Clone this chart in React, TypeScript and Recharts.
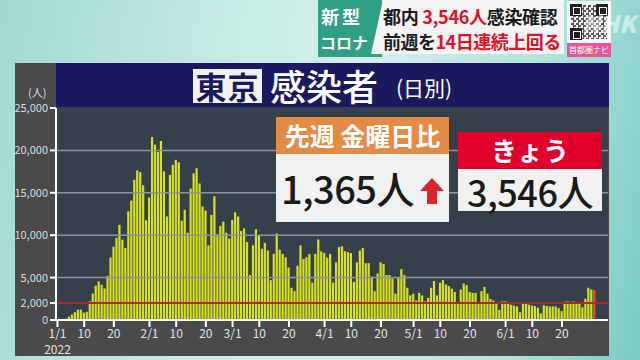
import React from 'react';
import { BarChart, Bar, XAxis, YAxis, ReferenceLine, Cell } from 'recharts';

// days per month on the axis (July only partly: axis runs to 7/5)
const monthLengths = [31, 28, 31, 30, 31, 30, 5];

const jan = [79, 84, 103, 151, 390, 641, 922, 1224, 1223, 871, 962, 2198, 3124, 4051, 4561, 4172, 3719, 5185, 7377, 8638, 9699, 11227, 9468, 8503, 12813, 14086, 16538, 17631, 17433, 15895, 11751];
const feb = [14445, 21576, 20679, 19800, 21121, 17526, 12214, 17113, 18287, 18891, 18600, 11700, 13000, 10300, 15500, 17300, 17900, 16100, 13400, 12900, 8800, 12400, 14600, 10100, 11100, 11600, 10300, 9600];
const mar = [11800, 12700, 12200, 10500, 10800, 9200, 5300, 8800, 10700, 10000, 8400, 9100, 8200, 4700, 7800, 10200, 8300, 7800, 7400, 6200, 3800, 3400, 6400, 8800, 7200, 7400, 7800, 4400, 7800, 9500, 8100];
const apr = [7900, 7350, 7800, 4400, 6800, 8600, 8700, 8100, 8000, 7900, 4500, 6800, 8200, 8500, 6700, 6700, 5100, 3400, 5500, 6800, 6600, 5300, 5300, 4900, 3100, 5000, 6000, 5300, 3800, 2900];
const may = [3100, 2300, 3200, 2900, 2200, 2600, 3800, 4600, 2900, 4400, 4700, 4200, 4000, 3700, 3300, 2000, 3600, 4300, 4100, 3300, 3200, 3200, 2100, 3400, 3900, 3100, 2500, 2300, 2000, 1200, 2200];
const jun = [2200, 2100, 1800, 1700, 1600, 930, 2000, 1900, 1800, 1700, 1650, 1450, 780, 1750, 1650, 1600, 1600, 1600, 1400, 1050, 2150, 2200, 2150, 2181, 2100, 1900, 1500, 2500, 3800, 3600];
const jul = [3546];

const yTicks = [0, 2000, 5000, 10000, 15000, 20000, 25000];
const gridValues = [5000, 10000, 15000, 20000];
const labelDays = [1, 10, 20];
const lastLabelMonth = 6;

const values: number[] = [...jan, ...feb, ...mar, ...apr, ...may, ...jun, ...jul];
const dates: string[] = [];
monthLengths.forEach((n, m) => {
  for (let d = 1; d <= n; d++) dates.push(`${m + 1}/${d}`);
});
const data = dates.map((date, i) => ({ date, cases: i < values.length ? values[i] : null }));
const todayIndex = values.length - 1;

const DateTick = (props: any) => {
  const { x, y, payload } = props;
  const [m, d] = String(payload.value).split('/').map(Number);
  if (!labelDays.includes(d) || m > lastLabelMonth) return <g />;
  const label = d === 1 ? `${m}/1` : String(d);
  return (
    <g transform={`translate(${x},${y})`}>
      <line x1={0} y1={0} x2={0} y2={7} stroke="#ffffff" strokeWidth={2} />
      <text x={0} y={18} textAnchor="middle" fill="#e2e2e2" fontSize={12}>{label}</text>
      {m === 1 && d === 1 && (
        <text x={0} y={34} textAnchor="middle" fill="#e2e2e2" fontSize={12}>2022</text>
      )}
    </g>
  );
};

const abs = (left: number, top: number, width: number, height: number): React.CSSProperties => ({
  position: 'absolute', left, top, width, height,
});

const App = () => {
  return (
    <div
      style={{
        position: 'fixed', left: 0, top: 0, width: 640, height: 360, overflow: 'hidden',
        fontFamily: "'Noto Sans CJK JP', 'Noto Sans', sans-serif",
        background: 'linear-gradient(100deg, #9fdad2 0%, #c8ebe6 35%, #d4efeb 55%, #b2e2dc 80%, #78cdc3 100%)',
      }}
    >
      {/* top banner */}
      <div style={{ ...abs(318, 0, 64, 57), background: '#2f9f86' }} />
      <div style={{ ...abs(321, 4, 56, 24), color: '#fff', fontSize: 18, fontWeight: 700, lineHeight: '24px', letterSpacing: 3 }}>新型</div>
      <div style={{ ...abs(320, 30, 58, 24), color: '#fff', fontSize: 16, fontWeight: 700, lineHeight: '24px', whiteSpace: 'nowrap' }}>コロナ</div>
      <div style={{ ...abs(371, 0, 193, 54), background: '#f4f4f4', clipPath: 'polygon(12px 0, 100% 0, 100% 100%, 0 100%)' }} />
      <div style={{ ...abs(383, 4, 180, 24), fontSize: 18, fontWeight: 700, lineHeight: '24px', color: '#1c1c1c', whiteSpace: 'nowrap', letterSpacing: -0.3 }}>
        都内 <span style={{ color: '#e0112b' }}>3,546人</span>感染確認
      </div>
      <div style={{ ...abs(383, 29, 180, 24), fontSize: 18, fontWeight: 700, lineHeight: '24px', color: '#1c1c1c', whiteSpace: 'nowrap', letterSpacing: -0.5 }}>
        前週を<span style={{ color: '#e0112b' }}>14日連続上回る</span>
      </div>
      <div style={{ ...abs(567, 1, 44, 42), background: '#f8f8f8' }}>
        <div style={{ ...abs(4, 4, 36, 34), background: 'repeating-conic-gradient(#333 0% 25%, #eee 0% 50%) 0 0/5px 5px', opacity: 0.8 }} />
        {[[3, 3], [29, 3], [3, 27]].map(([l, t], k) => (
          <div key={k} style={{ ...abs(l, t, 12, 12), background: '#222', boxSizing: 'border-box', border: '2px solid #222' }}>
            <div style={{ ...abs(1, 1, 6, 6), border: '1px solid #fff', background: '#222' }} />
          </div>
        ))}
      </div>
      <div style={{ ...abs(567, 43, 44, 14), background: '#e4579b', color: '#fff', fontSize: 8, lineHeight: '14px', textAlign: 'center' }}>首都圏ナビ</div>
      <div style={{ ...abs(582, 9, 56, 28), color: 'rgba(255,255,255,0.5)', fontSize: 24, fontWeight: 900, fontStyle: 'italic', lineHeight: '28px' }}>NHK</div>

      {/* panel */}
      <div style={{ ...abs(15, 63, 594, 293), background: '#4a4a4a' }} />
      <div style={{ ...abs(56, 107, 552, 214), background: '#36404a' }} />
      <div style={{ ...abs(56, 63, 553, 44), background: '#1b1a5e' }} />
      <div style={{ ...abs(193, 69, 69, 34), background: '#f2f2f2', color: '#1b1a5e', fontSize: 31, fontWeight: 700, lineHeight: '34px', textAlign: 'center', letterSpacing: 1 }}>東京</div>
      <div style={{ ...abs(270, 63, 114, 44), color: '#fff', fontSize: 36, lineHeight: '44px', fontWeight: 500, whiteSpace: 'nowrap' }}>感染者</div>
      <div style={{ ...abs(396, 67, 70, 40), color: '#fff', fontSize: 21, lineHeight: '40px' }}>(日別)</div>
      <div style={{ ...abs(28, 84, 30, 16), color: '#dcdcdc', fontSize: 11, lineHeight: '16px' }}>(人)</div>

      <div style={abs(0, 0, 640, 360)}>
        <BarChart width={640} height={360} data={data} margin={{ top: 108, right: 32, bottom: 10, left: 10 }} barCategoryGap={0}>
          {gridValues.map((v) => (
            <ReferenceLine key={v} y={v} stroke="#8e949a" strokeWidth={1.5} />
          ))}
          <XAxis
            dataKey="date"
            interval={0}
            height={30}
            tickSize={0}
            tickMargin={0}
            tickLine={false}
            axisLine={{ stroke: '#ffffff', strokeWidth: 2 }}
            tick={(p: any) => <DateTick {...p} />}
          />
          <YAxis
            width={46}
            domain={[0, 25000]}
            ticks={yTicks}
            interval={0}
            tickSize={6}
            tickLine={{ stroke: '#ffffff', strokeWidth: 2 }}
            axisLine={{ stroke: '#ffffff', strokeWidth: 2 }}
            tick={{ fill: '#dcdcdc', fontSize: 11 }}
            tickFormatter={(v: number) => v.toLocaleString('en-US')}
          />
          <Bar dataKey="cases" barSize={2.2} isAnimationActive={false}>
            {data.map((_, i) => (
              <Cell key={i} fill={i === todayIndex ? '#ea5326' : '#d6e21e'} />
            ))}
          </Bar>
          <ReferenceLine y={2000} stroke="#b3272b" strokeWidth={2} />
        </BarChart>
      </div>

      {/* comparison boxes */}
      <div style={{ ...abs(276, 117, 173, 37), background: '#e38b45', color: '#fff', fontSize: 25, fontWeight: 700, lineHeight: '37px', textAlign: 'center', whiteSpace: 'nowrap' }}>先週 金曜日比</div>
      <div style={{ ...abs(276, 154, 173, 68), background: '#f1f1f1' }}>
        <div style={{ ...abs(5, 14, 140, 40), color: '#1a1a1a', fontSize: 38, fontWeight: 500, lineHeight: '40px', whiteSpace: 'nowrap', letterSpacing: -0.5 }}>1,365人</div>
        <svg style={abs(144, 24, 24, 26)} viewBox="0 0 24 26">
          <polygon points="12,0 24,13 17,13 17,26 7,26 7,13 0,13" fill="#d8262c" />
        </svg>
      </div>
      <div style={{ ...abs(458, 132, 144, 37), background: '#e1002b' }}>
        <div style={{ ...abs(0, 3, 144, 30), color: '#fff', fontSize: 26, fontWeight: 700, lineHeight: '30px', textAlign: 'center' }}>きょう</div>
      </div>
      <div style={{ ...abs(458, 169, 144, 42), background: '#f1f1f1' }}>
        <div style={{ ...abs(0, 4, 144, 36), color: '#1a1a1a', fontSize: 36, fontWeight: 500, lineHeight: '36px', textAlign: 'center', whiteSpace: 'nowrap', letterSpacing: -0.5 }}>3,546人</div>
      </div>
    </div>
  );
};

export default App;
